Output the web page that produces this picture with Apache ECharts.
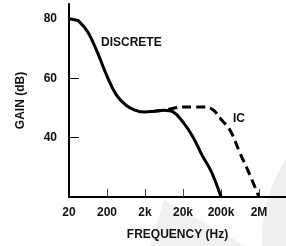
<!DOCTYPE html>
<html>
<head>
<meta charset="utf-8">
<script src="https://cdn.jsdelivr.net/npm/echarts@6/dist/echarts.min.js"></script>
<style>
  html, body { margin: 0; padding: 0; background: #fff; }
  #chart { width: 286px; height: 246px; }
</style>
</head>
<body>
<div id="chart"></div>
<script>
// frequency in Hz, gain in dB
const discreteFreq = [20, 28, 36, 63, 112, 200, 356, 632, 1125, 2000, 3557, 6325, 11250, 20000, 35570, 63250, 112500, 200000];
const discreteGain = [80, 79.7, 79.2, 75.5, 68.7, 60.7, 54.3, 50.9, 49.2, 48.6, 48.9, 49.2, 48.6, 45.2, 40.5, 34.1, 28.4, 20];
const icFreq = [3557, 6325, 11250, 20000, 35570, 63250, 112500, 200000, 355700, 632500, 1125000, 2000000];
const icGain = [48.9, 49.2, 49.9, 50.3, 50.3, 50.3, 49.7, 46.2, 42.2, 34.8, 27.7, 20];
const xTickLabels = ['20', '200', '2k', '20k', '200k', '2M'];
const yTickValues = [40, 60, 80];

const FONT = '"Liberation Sans", Arial, sans-serif';
const baseFreq = 20;
// decades above 20 Hz
const dec = f => Math.log10(f / baseFreq);
const toPairs = (fs, gs) => fs.map((f, i) => [dec(f), gs[i]]);

const chart = echarts.init(document.getElementById('chart'), null, { renderer: 'canvas' });

const textStyle = { fontFamily: FONT, fontWeight: 'bold', fontSize: 12, color: '#111' };

chart.setOption({
    animation: false,
    grid: { left: 69, right: 0, top: 4, bottom: 49 },
    graphic: [
        {
            type: 'circle', z: -10, silent: true,
            shape: { cx: 410, cy: 240, r: 148 },
            style: { fill: '#efefef' }
        },
        {
            type: 'polygon', z: -10, silent: true,
            shape: { points: [[164, 200], [246, 246], [150, 246]] },
            style: { fill: '#f1f1f1' }
        },
        {
            type: 'text', left: 101, top: 37,
            style: { text: 'DISCRETE', font: 'bold 12px ' + FONT, fill: '#111' }
        },
        {
            type: 'text', left: 233, top: 113,
            style: { text: 'IC', font: 'bold 12px ' + FONT, fill: '#111' }
        }
    ],
    xAxis: {
        type: 'value',
        min: 0,
        max: (286 - 69) / 38,
        name: 'FREQUENCY (Hz)',
        nameLocation: 'middle',
        nameGap: 32,
        nameTextStyle: textStyle,
        splitLine: { show: false },
        axisLine: { lineStyle: { color: '#000', width: 2 } },
        axisTick: {
            inside: true, length: 8,
            customValues: [1, 2, 3, 4, 5],
            lineStyle: { color: '#444', width: 1 }
        },
        axisLabel: {
            ...textStyle,
            margin: 10,
            customValues: [0, 1, 2, 3, 4, 5],
            formatter: v => xTickLabels[Math.round(v)] || ''
        }
    },
    yAxis: {
        type: 'value',
        min: 20,
        max: 85,
        name: 'GAIN (dB)',
        nameLocation: 'middle',
        nameGap: 42,
        nameTextStyle: textStyle,
        splitLine: { show: false },
        axisLine: { lineStyle: { color: '#000', width: 2 } },
        axisTick: {
            inside: true, length: 10,
            customValues: yTickValues,
            lineStyle: { color: '#000', width: 1 }
        },
        axisLabel: {
            ...textStyle,
            margin: 12,
            customValues: yTickValues
        }
    },
    series: [
        {
            name: 'IC',
            type: 'line',
            data: toPairs(icFreq, icGain),
            showSymbol: false,
            smooth: 0.4,
            lineStyle: { color: '#000', width: 3, type: [9, 5] }
        },
        {
            name: 'DISCRETE',
            type: 'line',
            data: toPairs(discreteFreq, discreteGain),
            showSymbol: false,
            smooth: 0.4,
            lineStyle: { color: '#000', width: 3 }
        }
    ]
});
</script>
</body>
</html>
